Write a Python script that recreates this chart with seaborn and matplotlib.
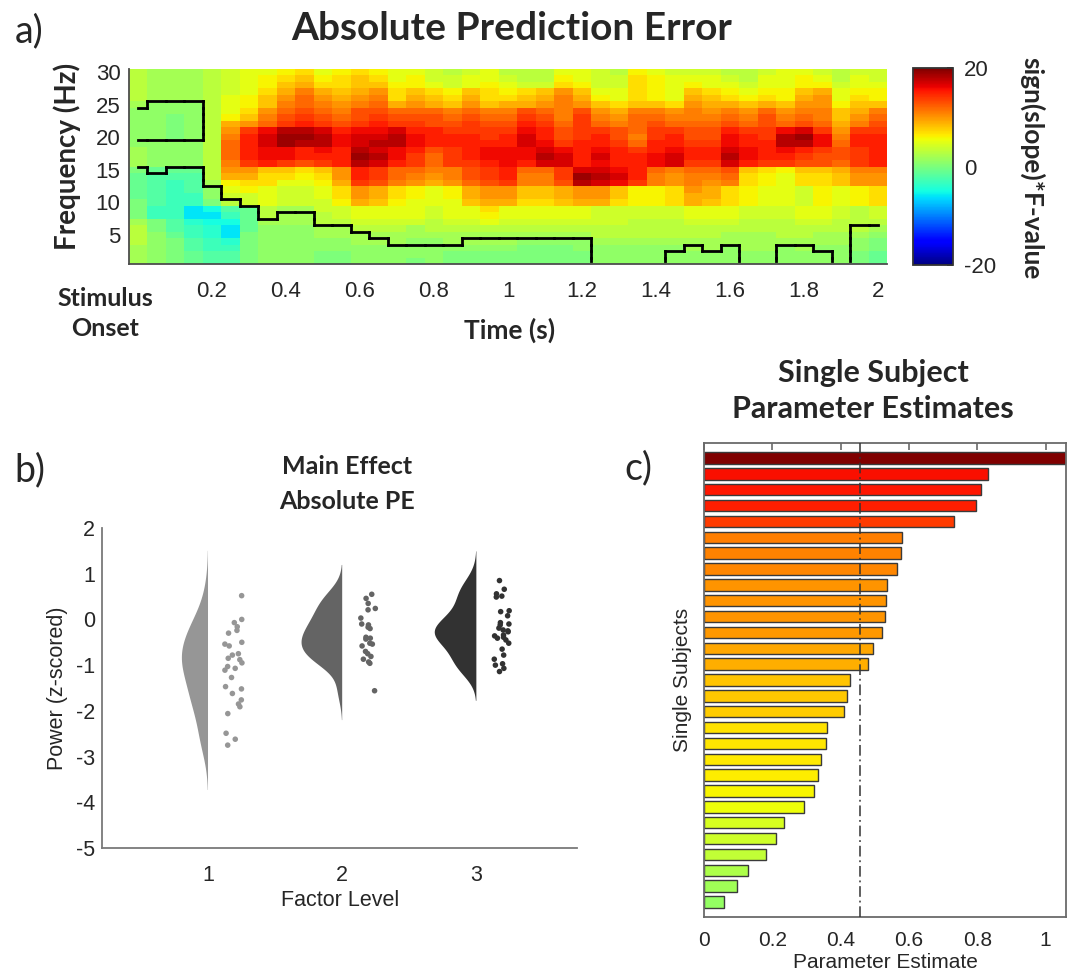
import numpy as np
import pandas as pd
import matplotlib
matplotlib.use("Agg")
import matplotlib.pyplot as plt
import matplotlib.transforms as mtransforms
from matplotlib.collections import LineCollection
from matplotlib import colors as mcolors
import seaborn as sns

sns.set_theme(style="white")
plt.rcParams["font.family"] = ["Liberation Sans", "DejaVu Sans"]
plt.rcParams["axes.unicode_minus"] = False
BOLD_FONT = ["Lato", "DejaVu Sans"]
TICK_COLOR = "#262626"

# ---------------------------------------------------------------- panel a data
time_s = [0.00, 0.05, 0.10, 0.15, 0.20, 0.25, 0.30, 0.35, 0.40, 0.45,
          0.50, 0.55, 0.60, 0.65, 0.70, 0.75, 0.80, 0.85, 0.90, 0.95,
          1.00, 1.05, 1.10, 1.15, 1.20, 1.25, 1.30, 1.35, 1.40, 1.45,
          1.50, 1.55, 1.60, 1.65, 1.70, 1.75, 1.80, 1.85, 1.90, 1.95, 2.00]
freq_hz = [30, 29, 28, 27, 26, 25, 24, 23, 22, 21, 20, 19, 18, 17, 16,
           15, 14, 13, 12, 11, 10, 9, 8, 7, 6, 5, 4, 3, 2, 1]

# sign(slope)*F-value, one row per frequency (top row = 30 Hz)
fvalue = [
    [3, 2, 2, 2, 3, 4, 5, 5, 6, 7, 5, 6, 7, 6, 5, 5, 4, 3, 4, 5, 3, 3, 3, 5, 5, 4, 3, 6, 5, 4, 4, 4, 3, 3, 4, 5, 5, 4, 3, 4, 4],
    [3, 2, 2, 2, 3, 4, 5, 6, 7, 8, 6, 7, 8, 7, 5, 6, 4, 4, 5, 5, 4, 3, 3, 6, 5, 4, 4, 7, 6, 5, 5, 5, 4, 3, 5, 5, 6, 5, 3, 5, 4],
    [3, 2, 2, 2, 3, 4, 5, 6, 8, 9, 7, 7, 8, 8, 6, 6, 5, 4, 5, 6, 5, 4, 4, 7, 6, 4, 4, 7, 6, 5, 6, 5, 5, 4, 5, 5, 6, 6, 4, 5, 5],
    [3, 2, 2, 2, 3, 4, 5, 7, 9, 11, 9, 8, 9, 10, 7, 8, 7, 6, 8, 7, 6, 7, 8, 10, 8, 5, 5, 7, 6, 5, 8, 7, 6, 5, 6, 6, 8, 9, 5, 6, 6],
    [3, 2, 2, 2, 3, 5, 6, 8, 10, 12, 10, 9, 10, 11, 7, 9, 8, 7, 9, 7, 7, 8, 9, 11, 9, 6, 5, 7, 6, 5, 9, 8, 7, 6, 7, 6, 9, 10, 5, 7, 6],
    [2, 1, 1, 1, 3, 5, 6, 8, 11, 12, 11, 10, 11, 12, 9, 10, 9, 8, 10, 8, 9, 9, 10, 11, 10, 8, 7, 8, 8, 7, 10, 9, 9, 8, 9, 8, 10, 10, 6, 8, 8],
    [1, 1, 1, 1, 3, 5, 7, 10, 12, 13, 12, 11, 13, 13, 12, 12, 12, 11, 12, 11, 11, 13, 12, 11, 13, 10, 9, 11, 11, 10, 11, 10, 11, 10, 12, 10, 11, 11, 8, 9, 11],
    [1, 1, 0, 1, 3, 6, 8, 11, 13, 14, 13, 12, 13, 14, 13, 13, 13, 12, 13, 12, 12, 14, 13, 11, 14, 11, 10, 12, 12, 11, 11, 11, 12, 11, 13, 11, 12, 11, 8, 10, 12],
    [1, 1, 0, 1, 3, 9, 10, 12, 14, 15, 14, 13, 14, 15, 14, 14, 13, 13, 14, 13, 13, 15, 14, 12, 14, 12, 11, 12, 13, 12, 12, 12, 13, 12, 13, 12, 13, 12, 9, 11, 13],
    [1, 1, 0, 1, 3, 10, 14, 16, 18, 18, 17, 15, 16, 16, 17, 15, 15, 14, 14, 14, 14, 16, 15, 13, 14, 14, 13, 12, 14, 14, 13, 13, 15, 14, 14, 16, 17, 14, 10, 14, 14],
    [1, 1, 0, 1, 3, 11, 15, 17, 19, 19, 18, 16, 17, 17, 18, 16, 15, 15, 15, 14, 15, 17, 15, 13, 14, 15, 13, 11, 14, 15, 13, 13, 16, 15, 14, 18, 19, 16, 11, 15, 15],
    [1, 1, 1, 1, 3, 12, 15, 17, 19, 18, 18, 16, 17, 18, 18, 16, 15, 15, 15, 15, 15, 17, 16, 14, 15, 15, 14, 12, 15, 15, 14, 14, 16, 15, 15, 18, 18, 16, 12, 15, 15],
    [2, 1, 1, 1, 3, 12, 15, 16, 16, 15, 16, 15, 18, 17, 16, 15, 13, 14, 15, 16, 16, 16, 17, 16, 15, 16, 15, 14, 15, 16, 15, 15, 17, 16, 15, 16, 15, 14, 13, 14, 15],
    [2, 1, 1, 1, 3, 12, 15, 16, 16, 15, 15, 15, 19, 18, 16, 14, 12, 14, 15, 16, 16, 16, 18, 17, 15, 17, 15, 15, 16, 17, 15, 15, 18, 16, 15, 15, 14, 13, 13, 14, 15],
    [2, 1, 1, 1, 3, 11, 14, 15, 14, 13, 14, 15, 18, 17, 15, 14, 12, 14, 14, 15, 16, 15, 17, 17, 15, 16, 15, 15, 16, 17, 14, 14, 17, 15, 14, 14, 13, 13, 12, 14, 15],
    [0, -1, -1, -1, 3, 10, 10, 8, 8, 7, 8, 10, 15, 14, 12, 12, 11, 11, 13, 14, 15, 12, 12, 14, 17, 17, 16, 15, 12, 11, 12, 12, 13, 8, 7, 6, 8, 8, 9, 11, 11],
    [-1, -2, -2, -2, 3, 9, 9, 7, 7, 6, 7, 10, 15, 14, 12, 11, 10, 11, 13, 14, 15, 11, 11, 14, 19, 18, 17, 15, 11, 10, 11, 11, 12, 7, 6, 5, 7, 7, 8, 10, 10],
    [-1, -2, -3, -2, 2, 6, 7, 7, 5, 5, 6, 9, 14, 13, 11, 10, 9, 10, 12, 13, 14, 11, 11, 13, 18, 17, 16, 14, 11, 10, 11, 10, 11, 7, 6, 5, 7, 7, 8, 10, 10],
    [-1, -2, -3, -2, 1, 5, 6, 5, 4, 4, 5, 7, 10, 9, 7, 6, 5, 6, 9, 10, 10, 8, 8, 9, 10, 10, 8, 6, 6, 7, 10, 9, 7, 6, 5, 5, 4, 6, 5, 6, 7],
    [-1, -2, -3, -3, 1, 4, 4, 5, 4, 4, 5, 7, 10, 9, 7, 6, 5, 6, 9, 10, 10, 8, 8, 9, 10, 10, 8, 6, 6, 7, 9, 9, 7, 6, 5, 5, 4, 6, 5, 6, 7],
    [0, -2, -3, -3, 0, 3, 4, 5, 4, 4, 4, 6, 9, 8, 6, 5, 5, 5, 8, 9, 9, 7, 7, 8, 9, 9, 7, 6, 6, 7, 9, 8, 7, 6, 5, 5, 4, 6, 5, 6, 7],
    [0, -3, -3, -6, -5, -2, -1, 3, 2, 2, 4, 4, 5, 5, 5, 5, 4, 5, 5, 7, 5, 5, 5, 5, 5, 4, 4, 4, 4, 4, 5, 5, 5, 4, 4, 4, 5, 5, 4, 3, 4],
    [0, -3, -3, -6, -6, -3, -1, 3, 2, 2, 3, 4, 5, 5, 5, 5, 4, 5, 5, 6, 5, 5, 5, 5, 5, 4, 4, 4, 4, 4, 5, 5, 5, 4, 4, 4, 5, 5, 4, 3, 4],
    [2, 0, -2, -4, -5, -5, -1, 2, 2, 2, 3, 3, 4, 4, 4, 4, 3, 4, 4, 5, 4, 4, 4, 4, 4, 4, 4, 3, 3, 3, 4, 4, 4, 3, 3, 3, 4, 4, 3, 3, 3],
    [3, 0, -2, -3, -4, -6, -1, 1, 1, 1, 2, 2, 3, 3, 3, 2, 3, 3, 3, 3, 3, 3, 3, 3, 3, 3, 3, 3, 3, 3, 3, 3, 3, 3, 3, 3, 3, 3, 3, 3, 2],
    [3, 1, -1, -3, -4, -6, 0, 1, 1, 1, 2, 2, 2, 2, 2, 2, 2, 2, 2, 2, 2, 2, 2, 2, 2, 3, 3, 3, 3, 3, 3, 3, 2, 2, 2, 3, 3, 2, 2, 2, 1],
    [3, 1, 0, -2, -3, -4, 0, 1, 1, 1, 1, 1, 2, 2, 2, 1, 1, 2, 2, 2, 2, 1, 1, 1, 1, 2, 2, 2, 2, 2, 2, 2, 2, 2, 2, 2, 2, 2, 2, 1, 0],
    [2, 1, 0, -2, -3, -3, 0, 1, 1, 1, 1, 1, 1, 1, 1, 1, 1, 1, 1, 1, 1, 0, 0, 0, 1, 1, 1, 1, 1, 1, 2, 2, 1, 2, 2, 1, 2, 1, 1, 1, 0],
    [2, 1, 0, -1, -2, -2, 0, 1, 1, 1, 0, 0, 1, 1, 1, 1, 1, 0, 0, 0, 0, 0, 0, 0, 0, 1, 1, 1, 1, 1, 1, 1, 1, 1, 1, 1, 1, 1, 1, 0, -1],
    [2, 1, 0, -1, -2, -2, 0, 1, 1, 1, 0, 0, 1, 1, 1, 0, 1, 0, 0, 0, 0, 0, 0, 0, 0, 1, 1, 1, 1, 1, 1, 1, 1, 1, 1, 1, 1, 1, 1, 0, -1],
]

# significant cluster: lowest significant frequency per time bin ...
cluster_floor_hz = [16, 15, 16, 16, 13, 11, 10, 8, 9, 9,
                    7, 7, 6, 5, 4, 4, 4, 4, 5, 5,
                    5, 5, 5, 5, 5, 1, 1, 1, 1, 3,
                    4, 3, 4, 1, 1, 4, 4, 3, 1, 7, 7]
# ... minus a non-significant pocket right after stimulus onset
gap_floor_hz = 20
gap_ceiling_hz = [24, 25, 25, 25]

time_ticks = [0.2, 0.4, 0.6, 0.8, 1.0, 1.2, 1.4, 1.6, 1.8, 2.0]
time_tick_labels = ["0.2", "0.4", "0.6", "0.8", "1", "1.2", "1.4", "1.6", "1.8", "2"]
freq_ticks = [5, 10, 15, 20, 25, 30]
cbar_ticks = [-20, 0, 20]

# ---------------------------------------------------------------- panel b data
factor_levels = ["1", "2", "3"]
power_level1 = [0.52, -0.07, 0.00, -0.16, -0.24, -0.30, -0.50, -0.54, -0.58, -0.78,
                -0.75, -0.85, -0.88, -0.95, -1.03, -1.07, -1.11, -1.27, -1.47, -1.52,
                -1.62, -1.76, -1.85, -1.91, -2.06, -2.49, -2.62, -2.75]
power_level2 = [0.55, 0.46, 0.35, 0.24, 0.21, 0.03, -0.10, -0.12, -0.17, -0.20,
                -0.39, -0.41, -0.43, -0.52, -0.54, -0.58, -0.70, -0.75, -0.81, -0.87,
                -0.93, -0.96, -1.56]
power_level3 = [0.85, 0.66, 0.56, 0.51, 0.49, 0.19, 0.17, 0.08, -0.07, -0.10,
                -0.12, -0.19, -0.23, -0.25, -0.27, -0.34, -0.36, -0.39, -0.41, -0.45,
                -0.52, -0.65, -0.78, -0.87, -0.97, -1.00, -1.07, -1.14]
level_colors = ["#969696", "#646464", "#323232"]

# ---------------------------------------------------------------- panel c data
estimates = [1.06, 0.832, 0.812, 0.795, 0.732, 0.581, 0.578, 0.566, 0.535, 0.533,
             0.530, 0.522, 0.496, 0.479, 0.427, 0.420, 0.409, 0.360, 0.356, 0.343,
             0.335, 0.322, 0.293, 0.234, 0.210, 0.182, 0.128, 0.097, 0.060]
subjects = [f"S{i + 1:02d}" for i in range(len(estimates))]
est_ticks = [0, 0.2, 0.4, 0.6, 0.8, 1.0]
est_tick_labels = ["0", "0.2", "0.4", "0.6", "0.8", "1"]

# ---------------------------------------------------------------- figure
W, H = 1075, 974
fig = plt.figure(figsize=(W / 100, H / 100), dpi=100)


def px_axes(left, top, right, bottom):
    return fig.add_axes([left / W, 1 - bottom / H, (right - left) / W, (bottom - top) / H])


def px_text(x, y, s, **kw):
    kw.setdefault("ha", "center")
    kw.setdefault("va", "center")
    return fig.text(x / W, 1 - y / H, s, **kw)


# ---------------------------------------------------------------- a) time-frequency map
axa = px_axes(128.75, 68.7, 887.25, 264.3)
cax = px_axes(913.3, 68.3, 952.7, 265.0)
sns.heatmap(np.array(fvalue, dtype=float), cmap="jet", vmin=-20, vmax=20, ax=axa,
            cbar_ax=cax, xticklabels=False, yticklabels=False,
            cbar_kws={"ticks": cbar_ticks})

t_arr = np.array(time_s)
axa.set_xticks([int(np.argmin(np.abs(t_arr - t))) + 0.5 for t in time_ticks])
axa.set_xticklabels(time_tick_labels, rotation=0)
axa.set_yticks([freq_hz.index(f) + 0.5 for f in freq_ticks])
axa.set_yticklabels([str(f) for f in freq_ticks], rotation=0)
axa.tick_params(axis="both", length=0, labelsize=16, labelcolor=TICK_COLOR)
axa.tick_params(axis="x", pad=12)
axa.tick_params(axis="y", pad=6)
for side in ("left", "bottom"):
    axa.spines[side].set_visible(True)
    axa.spines[side].set_color("#4d4d4d")
    axa.spines[side].set_linewidth(1.3)

# cluster outline: edges between significant and non-significant cells
n_rows, n_cols = len(freq_hz), len(time_s)
mask = np.zeros((n_rows, n_cols), dtype=bool)
for c in range(n_cols):
    for r, f in enumerate(freq_hz):
        sig = f >= cluster_floor_hz[c]
        if c < len(gap_ceiling_hz) and gap_floor_hz <= f <= gap_ceiling_hz[c]:
            sig = False
        mask[r, c] = sig

segments = []
x_lo, x_hi, y_lo, y_hi = 0.5, n_cols - 0.5, 0.5, n_rows - 0.5
for r in range(n_rows):
    for c in range(n_cols):
        if c + 1 < n_cols and mask[r, c] != mask[r, c + 1]:
            segments.append([(c + 1, max(r, y_lo)), (c + 1, min(r + 1, y_hi))])
        if r + 1 < n_rows and mask[r, c] != mask[r + 1, c]:
            segments.append([(max(c, x_lo), r + 1), (min(c + 1, x_hi), r + 1)])
axa.add_collection(LineCollection(segments, colors="black", linewidths=2.0,
                                  capstyle="projecting", zorder=5))

cbar = axa.collections[0].colorbar
cbar.outline.set_linewidth(1.3)
cbar.outline.set_edgecolor("#333333")
cax.tick_params(labelsize=16, labelcolor=TICK_COLOR, direction="in", length=4,
                width=1.2, color="#222222", pad=8)

px_text(29, 31, "a)", fontsize=27, family=BOLD_FONT)
px_text(512, 28, "Absolute Prediction Error", fontsize=28, fontweight="bold", family=BOLD_FONT)
px_text(67, 156, "Frequency (Hz)", fontsize=20, fontweight="bold", family=BOLD_FONT, rotation=90)
px_text(105, 298, "Stimulus", fontsize=18, fontweight="bold", family=BOLD_FONT)
px_text(105, 328, "Onset", fontsize=18, fontweight="bold", family=BOLD_FONT)
px_text(510, 330, "Time (s)", fontsize=19, fontweight="bold", family=BOLD_FONT)
px_text(1032, 168, "sign(slope)*F-value", fontsize=19, fontweight="bold",
        family=BOLD_FONT, rotation=270)

# ---------------------------------------------------------------- b) raincloud
axb = px_axes(102, 528, 577, 848)
df_b = pd.DataFrame({
    "level": ["1"] * len(power_level1) + ["2"] * len(power_level2) + ["3"] * len(power_level3),
    "power": power_level1 + power_level2 + power_level3,
})
palette_b = dict(zip(factor_levels, level_colors))
sns.violinplot(data=df_b, x="level", y="power", hue="level", order=factor_levels,
               hue_order=factor_levels, palette=palette_b, inner=None, linewidth=0,
               saturation=1, density_norm="area", common_norm=True, width=0.62,
               cut=2.3, legend=False, ax=axb)
# keep only the left half of each density
for coll in list(axb.collections):
    verts = coll.get_paths()[0].vertices.copy()
    center = 0.5 * (verts[:, 0].min() + verts[:, 0].max())
    verts[:, 0] = np.minimum(verts[:, 0], center)
    coll.set_verts([verts])
    coll.set_edgecolor("none")

n_before = len(axb.collections)
np.random.seed(4)
sns.stripplot(data=df_b, x="level", y="power", hue="level", order=factor_levels,
              hue_order=factor_levels, palette=palette_b, jitter=0.065, size=4,
              linewidth=0, legend=False, ax=axb)
shift = mtransforms.Affine2D().translate(0.19, 0) + axb.transData
for coll in axb.collections[n_before:]:
    coll.set_offset_transform(shift)

axb.set_xlim(-0.79, 2.75)
axb.set_ylim(-5, 2)
axb.set_yticks(range(-5, 3))
axb.set_xlabel("")
axb.set_ylabel("")
sns.despine(ax=axb)
for side in ("left", "bottom"):
    axb.spines[side].set_color("#7a7a7a")
    axb.spines[side].set_linewidth(1.3)
axb.tick_params(axis="both", direction="in", length=5, width=1.2, color="#7a7a7a",
                labelsize=15.5, labelcolor=TICK_COLOR)
axb.tick_params(axis="x", pad=12)
axb.tick_params(axis="y", pad=5)

px_text(30, 470, "b)", fontsize=27, family=BOLD_FONT)
px_text(347, 467, "Main Effect", fontsize=18, fontweight="bold", family=BOLD_FONT)
px_text(347, 501, "Absolute PE", fontsize=18, fontweight="bold", family=BOLD_FONT)
px_text(57, 688, "Power (z-scored)", fontsize=15.5, color=TICK_COLOR, rotation=90)
px_text(340, 900, "Factor Level", fontsize=15.5, color=TICK_COLOR)

# ---------------------------------------------------------------- c) single subjects
axc = px_axes(704, 443, 1066, 917)
vmax_est = max(estimates)
bar_rgba = plt.cm.jet(mcolors.Normalize(-vmax_est, vmax_est)(estimates))
df_c = pd.DataFrame({"subject": subjects, "estimate": estimates})
sns.barplot(data=df_c, x="estimate", y="subject", hue="subject", order=subjects,
            hue_order=subjects, palette=dict(zip(subjects, bar_rgba)), orient="h",
            width=0.72, saturation=1, edgecolor="#3a3a3a", linewidth=1.0,
            legend=False, ax=axc)
axc.axvline(float(np.mean(estimates)), color="#333333", lw=1.1,
            ls=(0, (7, 2.5, 1.2, 2.5)), zorder=4)
axc.set_xlim(0, 1.06)
axc.set_ylim(len(estimates) - 0.05, -0.95)
axc.set_xticks(est_ticks)
axc.set_xticklabels(est_tick_labels)
axc.set_yticks([])
axc.set_xlabel("")
axc.set_ylabel("")
for side in ("left", "bottom", "top", "right"):
    axc.spines[side].set_visible(True)
    axc.spines[side].set_color("#6a6a6a")
    axc.spines[side].set_linewidth(1.3)
axc.tick_params(axis="x", direction="in", top=True, length=5, width=1.2, color="#6a6a6a",
                labelsize=15, labelcolor=TICK_COLOR, pad=10)

px_text(638, 468, "c)", fontsize=27, family=BOLD_FONT)
px_text(873, 373, "Single Subject", fontsize=22, fontweight="bold", family=BOLD_FONT)
px_text(873, 409, "Parameter Estimates", fontsize=22, fontweight="bold", family=BOLD_FONT)
px_text(683, 680, "Single Subjects", fontsize=15, color=TICK_COLOR, rotation=90)
px_text(885, 963, "Parameter Estimate", fontsize=15, color=TICK_COLOR)

fig.savefig("out.png", dpi=100, facecolor="white")
